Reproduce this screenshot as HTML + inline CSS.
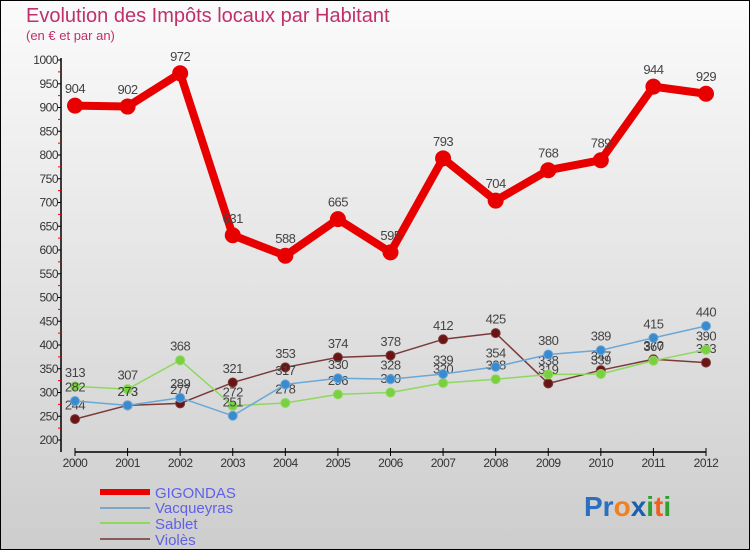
<!DOCTYPE html>
<html><head><meta charset="utf-8"><style>
html,body{margin:0;padding:0;}
body{width:750px;height:550px;overflow:hidden;font-family:"Liberation Sans",sans-serif;}
svg{display:block;}
</style></head><body>
<svg id="chart" width="750" height="550" xmlns="http://www.w3.org/2000/svg">
<defs><linearGradient id="bg" x1="0" y1="0" x2="0" y2="1"><stop offset="0" stop-color="#fbfbfb"/><stop offset="1" stop-color="#cdcdcd"/></linearGradient></defs>
<rect x="0.5" y="0.5" width="749" height="549" fill="url(#bg)" stroke="#000" stroke-width="1"/>
<text x="26" y="22" font-size="20" fill="#c0306a">Evolution des Impôts locaux par Habitant</text>
<text x="26" y="40" font-size="13" fill="#c0306a">(en € et par an)</text>
<g id="axes"></g>
<g id="series"></g>
<g>
<line x1="100" y1="492" x2="150" y2="492" stroke="#e00" stroke-width="6"/>
<text x="155" y="498" font-size="15" fill="#6060e8">GIGONDAS</text>
<line x1="100" y1="508" x2="150" y2="508" stroke="#7aa6c8" stroke-width="2"/>
<text x="155" y="513" font-size="15" fill="#6060e8">Vacqueyras</text>
<line x1="100" y1="523" x2="150" y2="523" stroke="#8fd860" stroke-width="2"/>
<text x="155" y="529" font-size="15" fill="#6060e8">Sablet</text>
<line x1="100" y1="539" x2="150" y2="539" stroke="#8a5a5a" stroke-width="2"/>
<text x="155" y="545" font-size="15" fill="#6060e8">Violès</text>
</g>
<g font-size="28" font-weight="bold">
<text x="584" y="516"><tspan fill="#2a6fc0">Pr</tspan><tspan fill="#f08020">o</tspan><tspan fill="#1a5fb0">x</tspan><tspan fill="#30a030">i</tspan><tspan fill="#f06020">t</tspan><tspan fill="#30a030">i</tspan></text>
</g>
</svg>
<script>
const years = ["2000","2001","2002","2003","2004","2005","2006","2007","2008","2009","2010","2011","2012"];
const gigondas = [904,902,972,631,588,665,595,793,704,768,789,944,929];
const vacqueyras = [282,273,289,251,317,330,328,339,354,380,389,415,440];
const sablet = [313,307,368,272,278,296,300,320,328,338,339,367,390];
const violes = [244,273,277,321,353,374,378,412,425,319,347,370,363];
const yTicks = [200,250,300,350,400,450,500,550,600,650,700,750,800,850,900,950,1000];

const NS="http://www.w3.org/2000/svg";
const x0=75,x1=706,yMin=200,yMax=1000,py0=440,py1=60;
function xs(i){return x0+(x1-x0)*i/(years.length-1);}
function ys(v){return py0-(v-yMin)*(py0-py1)/(yMax-yMin);}
function mk(tag,attrs,parent){const e=document.createElementNS(NS,tag);for(const k in attrs)e.setAttribute(k,attrs[k]);parent.appendChild(e);return e;}
const axes=document.getElementById('axes');
const series=document.getElementById('series');

const yAxis=mk('line',{x1:61,y1:ys(yMax)-2,x2:61,y2:ys(yMin)+12,stroke:'#000','stroke-width':1.5},axes);


yTicks.forEach(function(t){
  const tk=mk('line',{x1:57,y1:ys(t),x2:61,y2:ys(t),stroke:'#000'},axes);
  
  
  const tl=mk('text',{x:58,y:ys(t)+4,'font-size':12,'text-anchor':'end',fill:'#333','letter-spacing':'-0.5'},axes);
  tl.textContent=t;
  
  
  if(t<yMax){
    const mt=mk('line',{x1:58,y1:ys(t+25),x2:61,y2:ys(t+25),stroke:'#e00'},axes);
    
    
  }
});
const xAxis=mk('line',{x1:x0,y1:452,x2:x1,y2:452,stroke:'#000','stroke-width':1.5},axes);


years.forEach(function(y,i){
  const tk=mk('line',{x1:xs(i),y1:448,x2:xs(i),y2:456,stroke:'#000'},axes);
  
  
  const tl=mk('text',{x:xs(i),y:467,'font-size':12,'text-anchor':'middle',fill:'#333','letter-spacing':'-0.5'},axes);
  tl.textContent=y;
  
  
});

function draw(name,vals,color,dot,w,r){
  const g=mk('g',{},series);
  
  
  const pts=vals.map(function(v,i){return xs(i)+','+ys(v);}).join(' ');
  const pl=mk('polyline',{points:pts,fill:'none',stroke:color,'stroke-width':w,'stroke-linejoin':'round'},g);
  
  
  vals.forEach(function(v,i){
    const c=mk('circle',{cx:xs(i),cy:ys(v),r:r,fill:dot,stroke:color,'stroke-width':1},g);
    
    
    const t=mk('text',{x:xs(i),y:ys(v)-(r+5),'font-size':13,'text-anchor':'middle',fill:'#444','letter-spacing':'-0.5'},g);
    t.textContent=v;
    
    
  });
}
draw('violes',violes,'#7a3a3a','#6a1414',1.5,4.5);
draw('sablet',sablet,'#8fd860','#7ad040',1.5,4.5);
draw('vacqueyras',vacqueyras,'#6aa8d8','#3a8ad0',1.5,4.5);
draw('gigondas',gigondas,'#e80000','#e80000',8,7.5);
</script>
</body></html>
